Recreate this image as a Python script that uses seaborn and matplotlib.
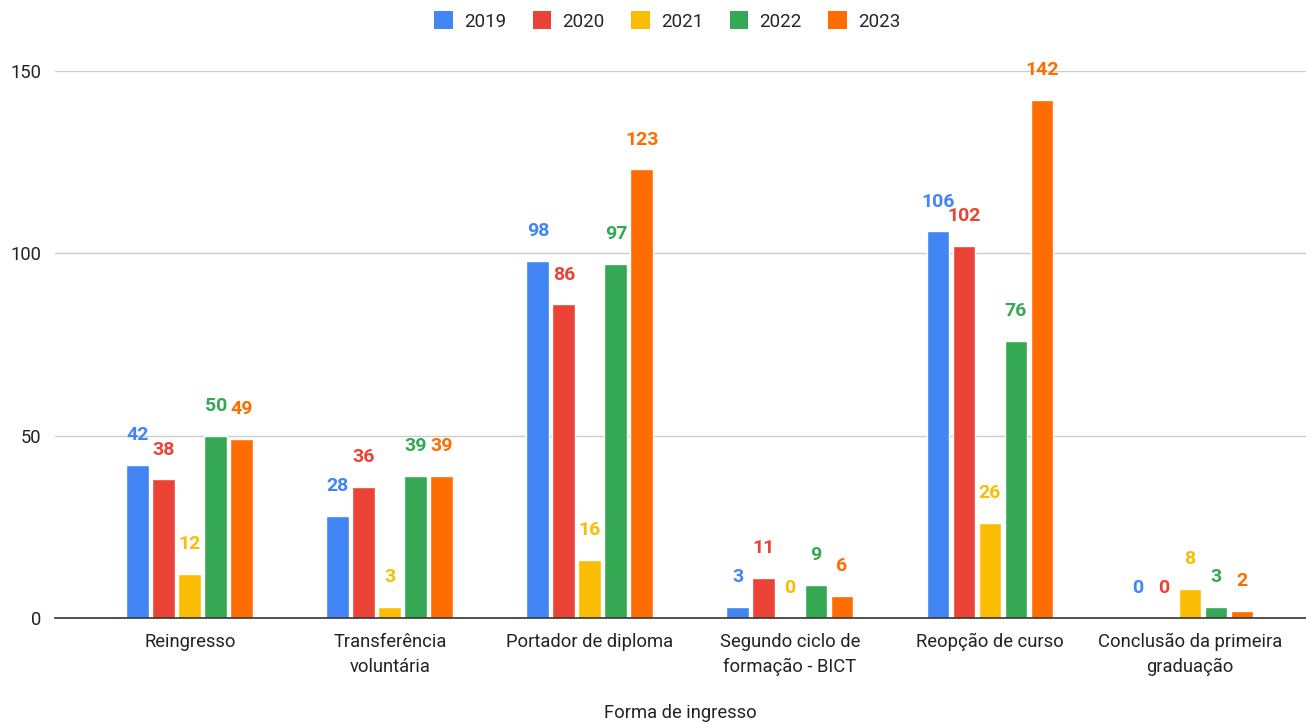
import matplotlib.pyplot as plt
import pandas as pd
import seaborn as sns
from matplotlib.patches import Patch

CATEGORIES = [
    "Reingresso",
    "Transferência\nvoluntária",
    "Portador de diploma",
    "Segundo ciclo de\nformação - BICT",
    "Reopção de curso",
    "Conclusão da primeira\ngraduação",
]
YEARS = ["2019", "2020", "2021", "2022", "2023"]
V2019 = [42, 28, 98, 3, 106, 0]
V2020 = [38, 36, 86, 11, 102, 0]
V2021 = [12, 3, 16, 0, 26, 8]
V2022 = [50, 39, 97, 9, 76, 3]
V2023 = [49, 39, 123, 6, 142, 2]
COLORS = ["#4285F4", "#EA4335", "#FBBC04", "#34A853", "#FF6D01"]


def build_frame() -> pd.DataFrame:
    rows = []
    for year, vals in zip(YEARS, [V2019, V2020, V2021, V2022, V2023]):
        for cat, v in zip(CATEGORIES, vals):
            rows.append({"forma": cat, "ano": year, "valor": v})
    return pd.DataFrame(rows)


def main() -> None:
    df = build_frame()
    sns.set_theme(style="white")
    plt.rcParams["font.family"] = ["Roboto", "DejaVu Sans"]

    fig = plt.figure(figsize=(13.06, 7.24), dpi=100)
    ax = fig.add_axes([0.042, 0.1464, 0.958, 0.7556])

    sns.barplot(
        data=df, x="forma", y="valor", hue="ano", order=CATEGORIES, hue_order=YEARS,
        palette=COLORS, width=0.65, gap=0.12, saturation=1, legend=False, ax=ax,
    )

    for cont, col in zip(ax.containers, COLORS):
        ax.bar_label(cont, fmt="%d", padding=15, color=col, fontweight="bold", fontsize=14, clip_on=False)

    ax.set_ylim(0, 150)
    ax.set_xlim(-0.675, 5.58)
    ax.set_yticks([0, 50, 100, 150])
    ax.yaxis.grid(True, color="#cccccc", linewidth=1)
    ax.set_axisbelow(True)
    for side in ["top", "right", "left"]:
        ax.spines[side].set_visible(False)
    ax.spines["bottom"].set_color("#333333")
    ax.spines["bottom"].set_linewidth(1.2)
    ax.tick_params(axis="both", length=0, labelsize=13.2, colors="#222222")
    ax.tick_params(axis="x", pad=11)
    ax.tick_params(axis="y", pad=10)
    for lbl in ax.get_xticklabels():
        lbl.set_linespacing(1.45)
    ax.set_ylabel("")
    ax.set_xlabel("Forma de ingresso", fontsize=13.2, color="#222222", labelpad=20)

    handles = [Patch(facecolor=c, edgecolor="none") for c in COLORS]
    fig.legend(
        handles, YEARS, loc="center", bbox_to_anchor=(0.511, 0.971), ncol=5, frameon=False,
        fontsize=13.5, handlelength=1.0, handleheight=1.1, handletextpad=0.6, columnspacing=1.4,
    )

    fig.savefig("out.png", dpi=100)
    plt.close(fig)


if __name__ == "__main__":
    main()
